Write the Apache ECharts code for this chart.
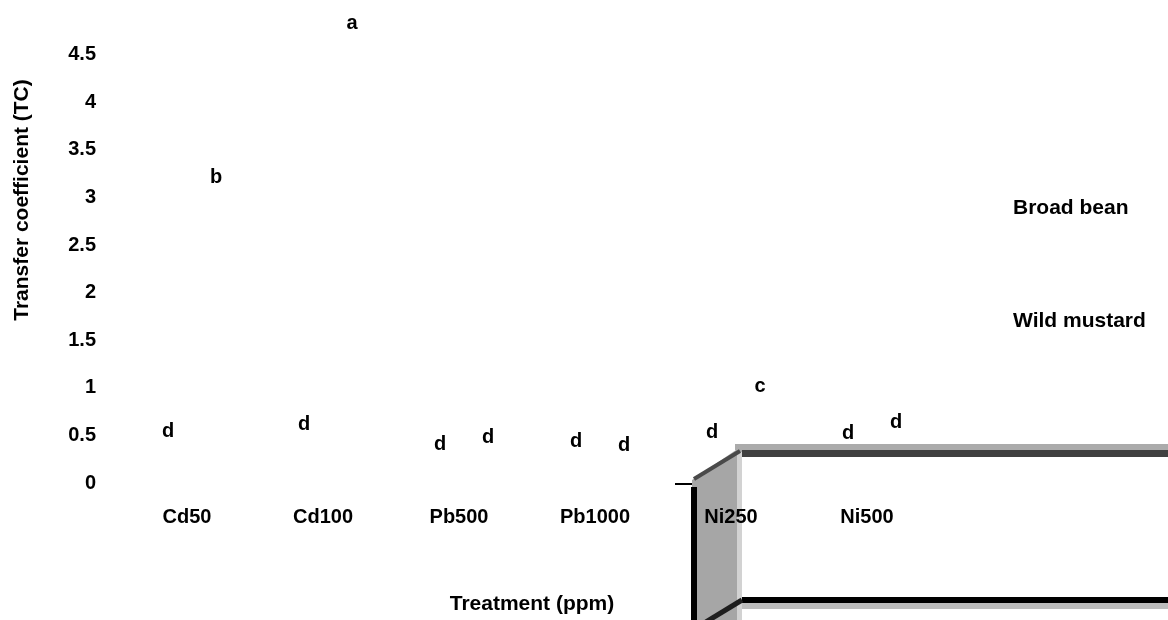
<!DOCTYPE html>
<html>
<head>
<meta charset="utf-8">
<script src="https://cdn.jsdelivr.net/npm/echarts@6/dist/echarts.min.js"></script>
<style>
html,body{margin:0;padding:0;background:#fff;}
#chart{width:1168px;height:620px;}
</style>
</head>
<body>
<div id="chart"></div>
<script>
// ---- data ----
const categories = ['Cd50', 'Cd100', 'Pb500', 'Pb1000', 'Ni250', 'Ni500'];
const seriesNames = ['Broad bean', 'Wild mustard'];
const broadBean = [0.38, 0.46, 0.25, 0.28, 0.37, 0.36];
const wildMustard = [3.05, 4.67, 0.32, 0.24, 0.86, 0.48];
const broadBeanLetters = ['d', 'd', 'd', 'd', 'd', 'd'];
const wildMustardLetters = ['b', 'a', 'd', 'd', 'c', 'd'];
const yTicks = [0, 0.5, 1, 1.5, 2, 2.5, 3, 3.5, 4, 4.5];

const FONT = "'Liberation Sans', Arial, sans-serif";
const chart = echarts.init(document.getElementById('chart'));

function barSeries(name, values, letters) {
  return {
    name: name,
    type: 'bar',
    data: values,
    barWidth: 40,
    barGap: '20%',
    clip: false,
    itemStyle: { color: 'rgba(255,255,255,0)' },
    label: {
      show: true,
      position: 'top',
      distance: 5,
      offset: [5, 0],
      formatter: p => letters[p.dataIndex],
      color: '#000',
      fontFamily: FONT,
      fontWeight: 'bold',
      fontSize: 20
    }
  };
}

const option = {
  backgroundColor: '#fff',
  animation: false,
  textStyle: { fontFamily: FONT },
  grid: { left: 119, right: 1168 - 119 - 816, top: 7, bottom: 135, containLabel: false },
  legend: {
    data: seriesNames,
    orient: 'vertical',
    left: 983,
    top: 198,
    padding: 0,
    itemGap: 92,
    itemWidth: 25,
    itemHeight: 14,
    icon: 'rect',
    itemStyle: { opacity: 0 },
    textStyle: { color: '#000', fontFamily: FONT, fontWeight: 'bold', fontSize: 21 }
  },
  xAxis: {
    type: 'category',
    data: categories,
    axisLine: { show: false },
    axisTick: { show: false },
    splitLine: { show: false },
    axisLabel: { margin: 24, color: '#000', fontFamily: FONT, fontWeight: 'bold', fontSize: 20 },
    name: 'Treatment (ppm)',
    nameLocation: 'middle',
    nameGap: 111,
    nameTextStyle: { color: '#000', fontFamily: FONT, fontWeight: 'bold', fontSize: 21, padding: [0, 0, 0, 10] }
  },
  yAxis: {
    type: 'value',
    min: 0,
    max: 5,
    interval: 0.5,
    axisLine: { show: false },
    axisTick: { show: false },
    splitLine: { show: false },
    axisLabel: {
      margin: 23,
      color: '#000',
      fontFamily: FONT,
      fontWeight: 'bold',
      fontSize: 20,
      formatter: v => (yTicks.indexOf(v) >= 0 ? String(v) : '')
    },
    name: 'Transfer coefficient (TC)',
    nameLocation: 'middle',
    nameGap: 86,
    nameTextStyle: { color: '#000', fontFamily: FONT, fontWeight: 'bold', fontSize: 21, padding: [0, 0, 0, 90] }
  },
  graphic: [
    // decorative frame fragment at the lower right
    { type: 'polygon', z: -1, silent: true, shape: { points: [[692, 620], [692, 480], [736, 450], [742, 450], [742, 620]] }, style: { fill: '#a6a6a6' } },
    { type: 'rect', z: -1, silent: true, shape: { x: 737, y: 452, width: 5, height: 168 }, style: { fill: '#d2d2d2' } },
    { type: 'rect', z: -1, silent: true, shape: { x: 735, y: 444, width: 433, height: 6 }, style: { fill: '#ababab' } },
    { type: 'rect', z: -1, silent: true, shape: { x: 742, y: 450, width: 426, height: 7 }, style: { fill: '#404040' } },
    { type: 'line', z: -1, silent: true, shape: { x1: 694, y1: 479, x2: 740, y2: 451 }, style: { stroke: '#4a4a4a', lineWidth: 4 } },
    { type: 'rect', z: -1, silent: true, shape: { x: 691, y: 487, width: 6, height: 133 }, style: { fill: '#000' } },
    { type: 'rect', z: -1, silent: true, shape: { x: 675, y: 483, width: 17, height: 2 }, style: { fill: '#000' } },
    { type: 'rect', z: -1, silent: true, shape: { x: 742, y: 597, width: 426, height: 6 }, style: { fill: '#000' } },
    { type: 'rect', z: -1, silent: true, shape: { x: 742, y: 603, width: 426, height: 6 }, style: { fill: '#bdbdbd' } },
    { type: 'line', z: -1, silent: true, shape: { x1: 742, y1: 600, x2: 706, y2: 622 }, style: { stroke: '#1e1e1e', lineWidth: 5 } }
  ],
  series: [
    barSeries(seriesNames[0], broadBean, broadBeanLetters),
    barSeries(seriesNames[1], wildMustard, wildMustardLetters)
  ]
};
chart.setOption(option);
</script>
</body>
</html>
